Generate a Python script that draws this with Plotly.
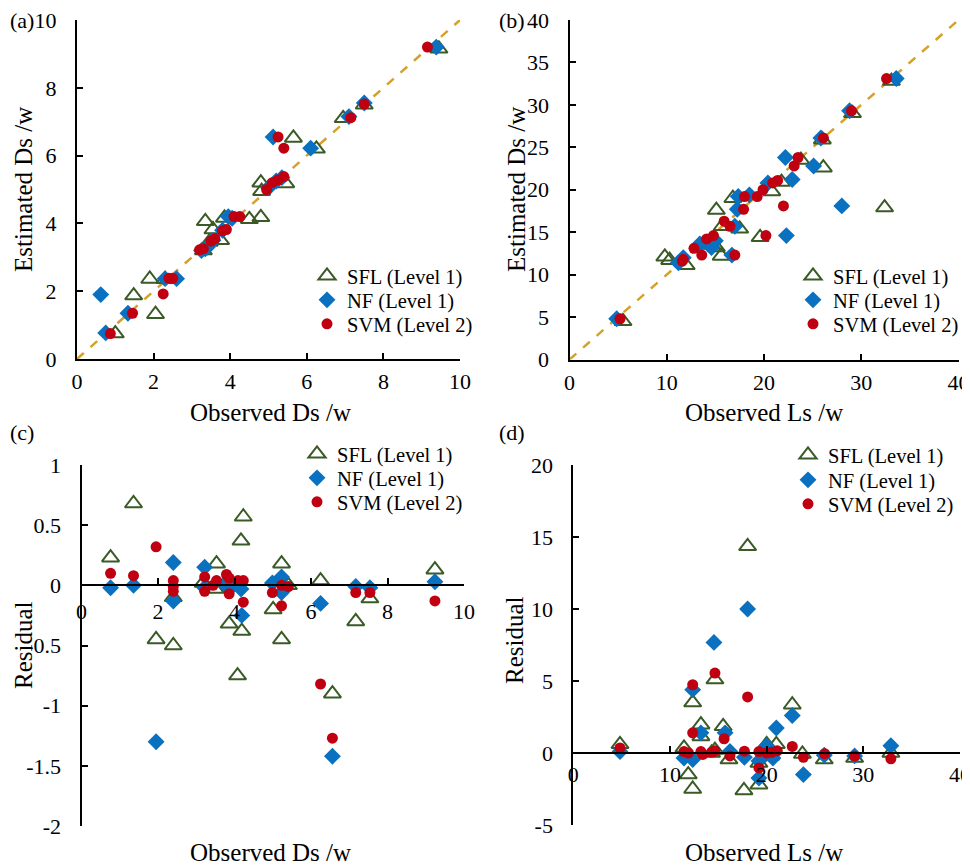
import plotly.graph_objects as go

# ---------------- data ----------------
series_names = ["SFL (Level 1)", "NF (Level 1)", "SVM (Level 2)"]

# (a) Observed vs estimated Ds
a_sfl_x = [1.0, 1.48, 1.9, 2.05, 2.3, 3.3, 3.35, 3.45, 3.55, 3.75, 3.85, 4.5, 4.8, 4.8, 4.82, 5.45, 5.65, 6.25, 6.95, 7.5, 9.45]
a_sfl_y = [0.75, 1.87, 2.36, 1.32, 2.35, 3.2, 4.06, 3.45, 3.82, 3.5, 4.16, 4.12, 4.18, 5.2, 4.95, 5.18, 6.52, 6.2, 7.1, 7.5, 9.15]
a_nf_x = [0.62, 0.75, 1.33, 2.3, 2.6, 3.25, 3.4, 3.55, 3.8, 3.95, 4.05, 5.0, 5.2, 5.35, 5.12, 6.1, 7.1, 7.5, 9.38, 3.35]
a_nf_y = [1.9, 0.77, 1.35, 2.37, 2.37, 3.2, 3.3, 3.5, 3.8, 4.2, 4.15, 5.05, 5.25, 5.35, 6.55, 6.22, 7.15, 7.55, 9.2, 3.25]
a_svm_x = [0.87, 1.45, 2.25, 2.4, 2.5, 3.2, 3.3, 3.5, 3.6, 3.8, 3.9, 4.1, 4.25, 4.95, 5.1, 5.25, 5.4, 5.25, 5.4, 7.15, 7.5, 9.15]
a_svm_y = [0.75, 1.35, 1.92, 2.38, 2.38, 3.22, 3.25, 3.48, 3.55, 3.78, 3.82, 4.2, 4.2, 5.0, 5.2, 5.28, 5.38, 6.55, 6.22, 7.12, 7.52, 9.2]

# (b) Observed vs estimated Ls
b_sfl_x = [5.5, 9.8, 10.3, 12.0, 15.1, 15.1, 15.6, 15.7, 17.5, 16.8, 19.6, 20.8, 21.8, 23.8, 26.1, 26.0, 29.1, 33.1, 32.4, 14.6]
b_sfl_y = [4.5, 12.1, 11.7, 11.1, 17.6, 13.2, 12.2, 15.7, 15.4, 19.0, 14.4, 19.8, 20.9, 23.5, 22.6, 25.9, 29.0, 32.8, 17.9, 13.5]
b_nf_x = [4.85, 11.2, 11.7, 13.4, 14.6, 16.7, 17.0, 17.25, 17.35, 18.5, 20.4, 22.9, 22.3, 28.0, 22.2, 25.1, 25.85, 28.8, 33.6, 15.0]
b_nf_y = [4.8, 11.4, 12.0, 13.6, 13.2, 12.3, 15.7, 17.7, 19.2, 19.4, 20.8, 21.2, 14.6, 18.1, 23.8, 22.8, 26.1, 29.3, 33.1, 14.0]
b_svm_x = [5.2, 11.7, 11.6, 12.8, 13.6, 14.1, 14.8, 17.0, 15.9, 16.5, 17.9, 18.0, 19.3, 19.9, 20.2, 20.9, 21.4, 22.0, 23.5, 23.1, 26.1, 29.0, 32.6]
b_svm_y = [4.8, 11.8, 11.6, 13.1, 12.3, 14.2, 14.6, 12.3, 16.3, 15.7, 17.7, 19.2, 19.2, 20.0, 14.6, 20.8, 21.1, 18.1, 23.8, 22.8, 26.1, 29.3, 33.1]

# (c) Residuals of Ds
c_sfl_x = [0.76, 1.36, 1.95, 2.4, 2.4, 3.18, 3.53, 3.49, 3.86, 4.08, 4.17, 4.23, 4.19, 5.01, 5.23, 5.23, 5.41, 6.25, 6.56, 7.17, 7.54, 9.24]
c_sfl_y = [0.23, 0.68, -0.45, -0.5, -0.1, 0.02, 0.18, -0.03, -0.32, -0.75, 0.37, 0.57, -0.38, -0.2, 0.18, -0.45, 0.0, 0.04, -0.9, -0.3, -0.11, 0.13]
c_nf_x = [0.76, 1.36, 1.95, 2.4, 2.4, 3.22, 3.22, 3.74, 3.96, 4.17, 4.19, 4.99, 5.23, 5.23, 6.25, 6.56, 7.17, 7.54, 9.24]
c_nf_y = [-0.02, 0.0, -1.3, 0.19, -0.13, 0.15, -0.02, 0.01, 0.0, -0.03, -0.25, 0.02, 0.07, -0.06, -0.15, -1.42, -0.01, -0.02, 0.03]
c_svm_x = [0.76, 1.36, 1.95, 2.4, 2.4, 2.4, 3.22, 3.22, 3.44, 3.53, 3.79, 3.86, 3.86, 4.09, 4.23, 4.23, 4.99, 5.23, 5.23, 5.41, 6.25, 6.56, 7.17, 7.54, 9.24]
c_svm_y = [0.1, 0.08, 0.32, 0.04, -0.01, -0.05, 0.07, -0.05, 0.0, 0.04, 0.09, 0.06, -0.07, 0.04, 0.04, -0.14, -0.06, 0.0, -0.17, -0.01, -0.82, -1.27, -0.06, -0.06, -0.13]

# (d) Residuals of Ls
d_sfl_x = [4.83, 11.45, 11.89, 12.35, 12.35, 13.2, 13.2, 14.3, 14.65, 14.65, 15.5, 16.1, 17.65, 18.03, 19.2, 19.2, 20.0, 21.0, 20.4, 22.65, 23.7, 25.96, 29.1, 32.85]
d_sfl_y = [0.6, 0.35, -1.5, -2.5, 3.5, 1.97, 1.15, 0.0, 5.1, 0.2, 1.85, -0.46, -2.6, 14.35, -2.2, -0.7, 0.6, 0.6, -0.2, 3.35, -0.07, -0.46, -0.35, 0.0]
d_nf_x = [4.83, 11.45, 12.35, 12.35, 13.2, 14.55, 15.7, 16.2, 17.7, 18.03, 19.2, 19.2, 20.0, 20.65, 21.0, 22.65, 23.8, 25.96, 29.1, 32.85]
d_nf_y = [0.1, -0.35, 4.4, -0.45, 1.4, 7.68, 1.4, 0.1, -0.3, 10.0, -1.74, -0.55, 0.5, -0.35, 1.74, 2.6, -1.5, -0.15, -0.2, 0.5]
d_svm_x = [4.83, 11.45, 11.9, 12.35, 12.35, 13.2, 13.4, 14.3, 14.65, 14.65, 15.6, 16.2, 17.7, 18.03, 19.2, 19.2, 20.0, 20.5, 21.1, 22.65, 23.8, 26.0, 29.1, 32.85]
d_svm_y = [0.35, 0.1, 0.0, 4.74, 1.4, 0.1, -0.1, 0.05, 5.55, 0.15, 0.99, -0.2, 0.13, 3.89, -1.04, 0.1, 0.0, 0.05, 0.15, 0.46, -0.3, -0.05, -0.2, -0.4]

# axis ranges / ticks
a_range = [0, 10]; a_ticks = [0, 2, 4, 6, 8, 10]
b_range = [0, 40]; b_xticks = [0, 10, 20, 30, 40]; b_yticks = [0, 5, 10, 15, 20, 25, 30, 35, 40]
c_xrange = [0, 10]; c_xticks = [0, 2, 4, 6, 8, 10]; c_xticklabels = ["0", "2", "4", "6", "8", "10"]
c_yrange = [-2, 1]; c_yticks = [-2, -1.5, -1, -0.5, 0, 0.5, 1]; c_yticklabels = ["-2", "-1.5", "-1", "-0.5", "0", "0.5", "1"]
d_xrange = [0, 40]; d_xticks = [0, 10, 20, 30, 40]; d_xticklabels = ["0", "10", "20", "30", "40"]
d_yrange = [-5, 20]; d_yticks = [-5, 0, 5, 10, 15, 20]; d_yticklabels = ["-5", "0", "5", "10", "15", "20"]

# ---------------- styling ----------------
W, H = 970, 868
OFF = 8  # page body margin in the browser
FONT = "Liberation Serif, Times New Roman, serif"
GREEN = "#3A5A26"
BLUE = "#0A70C0"
RED = "#C00010"
DIAG = "#D4A22A"


def fx(px):
    return (px - OFF) / W


def fy(py):
    return 1 - (py - OFF) / H


fig = go.Figure()

marker_styles = [
    dict(symbol="triangle-up-open", size=15, color=GREEN, line=dict(color=GREEN, width=2)),
    dict(symbol="diamond", size=13, color=BLUE, line=dict(width=0)),
    dict(symbol="circle", size=11, color=RED, line=dict(width=0)),
]

panels = [
    dict(xa="x", ya="y", xs=[a_sfl_x, a_nf_x, a_svm_x], ys=[a_sfl_y, a_nf_y, a_svm_y],
         diag=a_range, leg_x=307, leg_y=[276, 300, 324]),
    dict(xa="x2", ya="y2", xs=[b_sfl_x, b_nf_x, b_svm_x], ys=[b_sfl_y, b_nf_y, b_svm_y],
         diag=b_range, leg_x=793, leg_y=[276, 300, 324]),
    dict(xa="x3", ya="y3", xs=[c_sfl_x, c_nf_x, c_svm_x], ys=[c_sfl_y, c_nf_y, c_svm_y],
         diag=None, leg_x=297, leg_y=[454, 478, 502]),
    dict(xa="x4", ya="y4", xs=[d_sfl_x, d_nf_x, d_svm_x], ys=[d_sfl_y, d_nf_y, d_svm_y],
         diag=None, leg_x=788, leg_y=[455, 480, 504]),
]

legend_layouts = {}
leg_idx = 0
for p in panels:
    if p["diag"] is not None:
        fig.add_trace(go.Scatter(x=p["diag"], y=p["diag"], mode="lines", xaxis=p["xa"], yaxis=p["ya"],
                                 line=dict(color=DIAG, width=2.5, dash="dash"), showlegend=False,
                                 hoverinfo="skip"))
    for i in range(3):
        leg_idx += 1
        lname = "legend" if leg_idx == 1 else f"legend{leg_idx}"
        fig.add_trace(go.Scatter(x=p["xs"][i], y=p["ys"][i], mode="markers", name=series_names[i],
                                 xaxis=p["xa"], yaxis=p["ya"], marker=marker_styles[i],
                                 legend=lname, showlegend=True, cliponaxis=False))
        legend_layouts[lname] = dict(x=fx(p["leg_x"]), y=fy(p["leg_y"][i]), xanchor="left", yanchor="middle",
                                     bgcolor="rgba(0,0,0,0)", borderwidth=0,
                                     font=dict(family=FONT, size=20.5, color="black"),
                                     itemwidth=30)

axis_common = dict(showgrid=False, zeroline=False, showline=True, linecolor="black", linewidth=2,
                   ticks="inside", ticklen=6, tickwidth=2, tickcolor="black", automargin=False,
                   ticklabeloverflow="allow",
                   tickfont=dict(family=FONT, size=22, color="black"), mirror=False)

# domains (pixels in the screenshot)
dom = {
    "a": dict(x=[77, 460], y=[359, 20]),
    "b": dict(x=[569.5, 958.5], y=[359.5, 20]),
    "c": dict(x=[81.5, 464], y=[826, 465]),
    "d": dict(x=[573.3, 960], y=[825, 465]),
}


def xd(k):
    return [fx(dom[k]["x"][0]), fx(dom[k]["x"][1])]


def yd(k):
    return [fy(dom[k]["y"][0]), fy(dom[k]["y"][1])]


# free x-axis positions for residual panels (at y = 0)
c_pos = yd("c")[0] + (0 - c_yrange[0]) / (c_yrange[1] - c_yrange[0]) * (yd("c")[1] - yd("c")[0])
d_pos = yd("d")[0] + (0 - d_yrange[0]) / (d_yrange[1] - d_yrange[0]) * (yd("d")[1] - yd("d")[0])

fig.update_layout(
    width=W, height=H, margin=dict(l=0, r=0, t=0, b=0, autoexpand=False),
    paper_bgcolor="white", plot_bgcolor="rgba(0,0,0,0)",
    font=dict(family=FONT, size=22, color="black"),
    xaxis=dict(axis_common, domain=xd("a"), range=a_range, tickvals=a_ticks, anchor="y", ticklabelstandoff=2),
    yaxis=dict(axis_common, domain=yd("a"), range=a_range, tickvals=a_ticks, anchor="x", ticklabelstandoff=14),
    xaxis2=dict(axis_common, domain=xd("b"), range=b_range, tickvals=b_xticks, anchor="y2", ticklabelstandoff=2),
    yaxis2=dict(axis_common, domain=yd("b"), range=b_range, tickvals=b_yticks, anchor="x2", ticklabelstandoff=14),
    xaxis3=dict(axis_common, domain=xd("c"), range=c_xrange, tickvals=c_xticks, ticktext=c_xticklabels,
                anchor="free", position=c_pos, ticklabelstandoff=6),
    yaxis3=dict(axis_common, domain=yd("c"), range=c_yrange, tickvals=c_yticks, ticktext=c_yticklabels,
                anchor="x3", ticklabelstandoff=14),
    xaxis4=dict(axis_common, domain=xd("d"), range=d_xrange, tickvals=d_xticks, ticktext=d_xticklabels,
                anchor="free", position=d_pos, ticklabelstandoff=2),
    yaxis4=dict(axis_common, domain=yd("d"), range=d_yrange, tickvals=d_yticks, ticktext=d_yticklabels,
                anchor="x4", ticklabelstandoff=14),
    **legend_layouts,
)

title_font = dict(family=FONT, size=25, color="black")
label_font = dict(family=FONT, size=22, color="black")
annotations = [
    # panel labels
    dict(text="(a)", x=fx(8), y=fy(20), xanchor="left", yanchor="middle", font=label_font),
    dict(text="(b)", x=fx(497), y=fy(20), xanchor="left", yanchor="middle", font=label_font),
    dict(text="(c)", x=fx(8), y=fy(432), xanchor="left", yanchor="middle", font=label_font),
    dict(text="(d)", x=fx(497), y=fy(432), xanchor="left", yanchor="middle", font=label_font),
    # axis titles
    dict(text="Observed Ds /w", x=fx(270), y=fy(412), xanchor="center", yanchor="middle", font=title_font),
    dict(text="Observed Ls /w", x=fx(764), y=fy(412), xanchor="center", yanchor="middle", font=title_font),
    dict(text="Observed Ds /w", x=fx(270), y=fy(852), xanchor="center", yanchor="middle", font=title_font),
    dict(text="Observed Ls /w", x=fx(764), y=fy(852), xanchor="center", yanchor="middle", font=title_font),
    dict(text="Estimated Ds /w", x=fx(23), y=fy(190), xanchor="center", yanchor="middle", textangle=-90, font=title_font),
    dict(text="Estimated Ds /w", x=fx(516), y=fy(190), xanchor="center", yanchor="middle", textangle=-90, font=title_font),
    dict(text="Residual", x=fx(23), y=fy(645), xanchor="center", yanchor="middle", textangle=-90, font=title_font),
    dict(text="Residual", x=fx(514), y=fy(640), xanchor="center", yanchor="middle", textangle=-90, font=title_font),
]
for a in annotations:
    a.update(xref="paper", yref="paper", showarrow=False)
fig.update_layout(annotations=annotations)

fig.write_html("out.html")
